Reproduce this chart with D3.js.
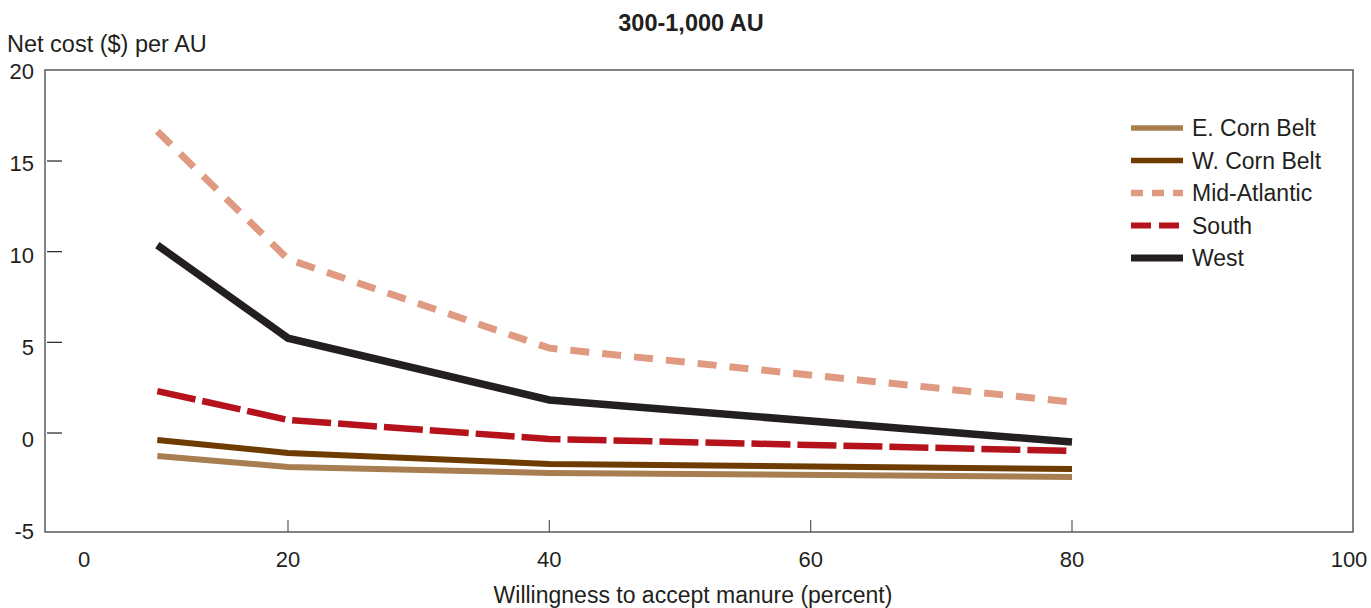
<!DOCTYPE html>
<html>
<head>
<meta charset="utf-8">
<script src="https://cdn.jsdelivr.net/npm/d3@7"></script>
<style>
  html, body { margin: 0; padding: 0; background: #fff; }
  text { font-family: "Liberation Sans", Arial, sans-serif; fill: #231f20; }
</style>
</head>
<body>
<svg id="chart" width="1371" height="608"></svg>
<script>
const title = "300-1,000 AU";
const yTitle = "Net cost ($) per AU";
const xTitle = "Willingness to accept manure (percent)";
const xValues = [10, 20, 40, 80];
const xTicks = [0, 20, 40, 60, 80, 100];
const yTicks = [-5, 0, 5, 10, 15, 20];
const seriesNames = ["E. Corn Belt", "W. Corn Belt", "Mid-Atlantic", "South", "West"];
const eCornBelt = [-1.27, -1.87, -2.2, -2.42];
const wCornBelt = [-0.39, -1.1, -1.71, -1.98];
const midAtlantic = [16.64, 9.59, 4.68, 1.71];
const south = [2.31, 0.72, -0.33, -0.99];
const west = [10.36, 5.23, 1.82, -0.5];

const seriesValues = [eCornBelt, wCornBelt, midAtlantic, south, west];
const styles = [
  { color: "#a87d50", width: 6, dash: null, legDash: null },
  { color: "#6e3b00", width: 6, dash: null, legDash: null },
  { color: "#e09a82", width: 7, dash: "19,13", legDash: "12,9" },
  { color: "#b5121b", width: 6.5, dash: "39,7", legDash: "20,8" },
  { color: "#231f20", width: 7.5, dash: null, legDash: null }
];

const svg = d3.select("#chart");
const box = { left: 45, right: 1353, top: 70, bottom: 532 };

const x = d3.scaleLinear().domain([20, 80]).range([288, 1072]);
// tick labels for the extreme values sit near the frame edges in the original
const xLabelPos = d3.scaleLinear().domain([0, 20, 80, 100]).range([84, 288, 1072, 1349]);
const y = d3.scaleLinear().domain([0, 15]).range([433, 161]);
const yLabelPos = d3.scaleLinear().domain([-5, 20]).range([531, 71]);

// frame
svg.append("rect")
  .attr("x", box.left).attr("y", box.top)
  .attr("width", box.right - box.left).attr("height", box.bottom - box.top)
  .attr("fill", "none").attr("stroke", "#58595b").attr("stroke-width", 1.5);

// y ticks (inside)
const yAxis = svg.append("g").attr("transform", `translate(${box.left},0)`);
yAxis.selectAll("line").data(yTicks.filter(d => d > -5 && d < 20)).join("line")
  .attr("x1", 2).attr("x2", 17)
  .attr("y1", d => y(d)).attr("y2", d => y(d))
  .attr("stroke", "#231f20").attr("stroke-width", 1.2);
yAxis.selectAll("text").data(yTicks).join("text")
  .attr("x", -11).attr("y", d => yLabelPos(d))
  .attr("dy", "0.36em").attr("text-anchor", "end")
  .attr("font-size", 22).text(d => d);

// x ticks (inside, upward)
const xAxis = svg.append("g");
xAxis.selectAll("line").data(xTicks.filter(d => d > 0 && d < 100)).join("line")
  .attr("x1", d => x(d)).attr("x2", d => x(d))
  .attr("y1", box.bottom - 12).attr("y2", box.bottom)
  .attr("stroke", "#58595b").attr("stroke-width", 1.2);
xAxis.selectAll("text").data(xTicks).join("text")
  .attr("x", d => xLabelPos(d)).attr("y", 567)
  .attr("text-anchor", "middle").attr("font-size", 22).text(d => d);

// titles
svg.append("text").attr("x", 691).attr("y", 31).attr("text-anchor", "middle")
  .attr("font-size", 23.5).attr("font-weight", "bold").text(title);
svg.append("text").attr("x", 7).attr("y", 52)
  .attr("font-size", 23.5).text(yTitle);
svg.append("text").attr("x", 693).attr("y", 603).attr("text-anchor", "middle")
  .attr("font-size", 23).text(xTitle);

// lines
const line = d3.line().x((d, i) => x(xValues[i])).y(d => y(d));
svg.append("g").selectAll("path").data(seriesValues).join("path")
  .attr("d", d => line(d))
  .attr("fill", "none")
  .attr("stroke", (d, i) => styles[i].color)
  .attr("stroke-width", (d, i) => styles[i].width)
  .attr("stroke-dasharray", (d, i) => styles[i].dash)
  .attr("stroke-linejoin", "miter");

// legend
const legend = svg.append("g");
const legY = d3.scalePoint().domain(seriesNames).range([128, 258]);
seriesNames.forEach((name, i) => {
  const gy = legY(name);
  legend.append("line")
    .attr("x1", 1131).attr("x2", 1183).attr("y1", gy).attr("y2", gy)
    .attr("stroke", styles[i].color).attr("stroke-width", styles[i].width - 0.5)
    .attr("stroke-dasharray", styles[i].legDash);
  legend.append("text").attr("x", 1192).attr("y", gy).attr("dy", "0.36em")
    .attr("font-size", 23).text(name);
});
</script>
</body>
</html>
